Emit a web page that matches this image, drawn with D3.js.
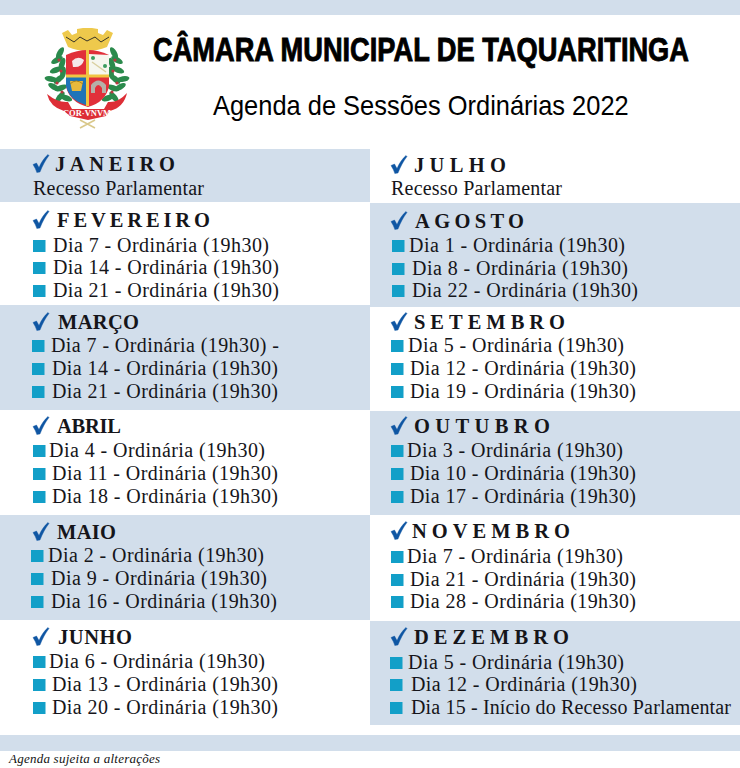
<!DOCTYPE html>
<html><head><meta charset="utf-8">
<script src="https://cdn.jsdelivr.net/npm/d3@7/dist/d3.min.js"></script>
<style>html,body{margin:0;padding:0;background:#fff}svg{display:block}</style>
</head><body><svg id="c" width="740" height="768"></svg>
<script>
const title = "CÂMARA MUNICIPAL DE TAQUARITINGA";
const subtitle = "Agenda de Sessões Ordinárias 2022";
const footnote = "Agenda sujeita a alterações";
const monthsLeft = ["JANEIRO","FEVEREIRO","MARÇO","ABRIL","MAIO","JUNHO"];
const monthsRight = ["JULHO","AGOSTO","SETEMBRO","OUTUBRO","NOVEMBRO","DEZEMBRO"];
const daysLeft = [[],[7,14,21],[7,14,21],[4,11,18],[2,9,16],[6,13,20]];
const daysRight = [[],[1,8,22],[5,12,19],[3,10,17],[7,21,28],[5,12,15]];
const recess = "Recesso Parlamentar";
const session = "Ordinária (19h30)";
const recessStart = "Início do Recesso Parlamentar";

const svg = d3.select("#c");
const BLUE="#d2deeb", INK="#15151a", CHECK="#0f56a3", SQ="#129fc8";
const SERIF="'Liberation Serif',serif";
const L = {
  bandTop:[149,202,305,410,515,620,735], shadeOdd:0,
  headX:[55,57,58,57,57,58], headW:[120,153,81,64,59,74],
  headY:[171,227,329,433,539,644], checkX:32,
  lineY:[[195],[252,274,297],[352,375,398],[457,480,503],[562,585,608],[668,691,714]],
  textX:[[33],[53,53,53],[51,52,52],[49,52,52],[48,51,51],[49,52,52]],
  sqX:[0,33,32,33,31,33], x0:0, x1:370
};
const R = {
  bandTop:[149,203,307,411,515,621,725], shadeOdd:1,
  headX:[414,415,414,414,412,414], headW:[92,109,151,136,158,155],
  headY:[172,228,329,433,538,644], checkX:390,
  lineY:[[195],[252,275,297],[352,375,398],[457,480,503],[563,586,608],[669,691,714]],
  textX:[[391],[409,412,412],[408,410,410],[407,410,410],[407,410,410],[408,411,411]],
  sqX:[0,392,391,391,391,390], x0:370, x1:740
};

svg.append("rect").attr("x",0).attr("y",0).attr("width",740).attr("height",15).attr("fill",BLUE);
svg.append("rect").attr("x",0).attr("y",735).attr("width",740).attr("height",16).attr("fill",BLUE);

function column(months, days, C){
  const g = svg.append("g");
  months.forEach((m,i)=>{
    if((i%2===0) === (C.shadeOdd===0)){
      g.append("rect").attr("x",C.x0).attr("y",C.bandTop[i]).attr("width",C.x1-C.x0)
       .attr("height",C.bandTop[i+1]-C.bandTop[i]).attr("fill",BLUE);
    }
  });
  months.forEach((m,i)=>{
    const hy=C.headY[i];
    g.append("path").attr("transform",`translate(${C.checkX},${hy})`)
      .attr("d","M1,-6.5 L4.5,-8 L7,-3.5 C9,-8.5 12.5,-13.5 16,-16.5 L17,-15.5 C13.5,-11 10.5,-5.5 8,1 L4.8,1.5 C4,-1.5 2.5,-4 1,-6.5Z")
      .attr("fill",CHECK).attr("stroke",CHECK).attr("stroke-width",0.4);
    g.append("text").attr("x",C.headX[i]).attr("y",hy).text(m)
      .attr("font-family",SERIF).attr("font-weight",700)
      .attr("font-size",20.5).attr("fill",INK)
      .attr("textLength",C.headW[i]).attr("lengthAdjust","spacing");
    if(days[i].length===0){
      g.append("text").attr("x",C.textX[i][0]).attr("y",C.lineY[i][0]).text(recess)
       .attr("font-family",SERIF).attr("font-size",20).attr("fill",INK)
       .attr("textLength",171).attr("lengthAdjust","spacing");
    } else days[i].forEach((d,j)=>{
      const ly=C.lineY[i][j], tx=C.textX[i][j];
      g.append("rect").attr("x",C.sqX[i]).attr("y",ly-12).attr("width",12.5).attr("height",12).attr("fill",SQ);
      const isRecess = months===monthsRight && i===5 && j===2;
      const isDash = months===monthsLeft && i===2 && j===0;
      const label = isRecess ? `Dia ${d} - ${recessStart}` : `Dia ${d} - ${session}${isDash?" -":""}`;
      const w = isRecess ? 320 : isDash ? 228 : (d<10 ? 216 : 226);
      g.append("text").attr("x",tx).attr("y",ly).text(label)
       .attr("font-family",SERIF).attr("font-size",20).attr("fill",INK)
       .attr("textLength",w).attr("lengthAdjust","spacing");
    });
  });
}
column(monthsLeft,daysLeft,L);
column(monthsRight,daysRight,R);

// titles: measured, then squeezed horizontally to the reference width
const t1 = svg.append("text").text(title)
  .attr("font-family","'Liberation Sans Narrow','Liberation Sans',sans-serif").attr("font-weight",700)
  .attr("font-size",33).attr("fill","#000").attr("stroke","#000").attr("stroke-width",0.9);
t1.attr("transform",`translate(153,61) scale(${536/t1.node().getComputedTextLength()},1)`);
const t2 = svg.append("text").text(subtitle)
  .attr("font-family","'Liberation Sans',sans-serif").attr("font-size",27).attr("fill","#000");
t2.attr("transform",`translate(213,115) scale(${416/t2.node().getComputedTextLength()},1)`);
svg.append("text").attr("x",9).attr("y",763).text(footnote)
  .attr("font-family",SERIF).attr("font-style","italic").attr("font-size",13).attr("fill","#111")
  .attr("textLength",151).attr("lengthAdjust","spacing");

// coat of arms
const a = svg.append("g");
const P=(d,f,s,w)=>a.append("path").attr("d",d).attr("fill",f||"none").attr("stroke",s||"none").attr("stroke-width",w||0);
// laurels (mirrored around the shield axis x=87)
const leafSpots=[[60,53,-60],[57,60,-30],[62,64,-70],[56,70,-20],[51,79,10],[59,79,-40],[63,73,-80],[54,87,30],[61,88,-20],[60,97,-50],[66,98,20]];
leafSpots.forEach(([x,yy,r])=>{
  [[x,r],[174-x,-r]].forEach(([lx,lr])=>{
    a.append("ellipse").attr("cx",lx).attr("cy",yy).attr("rx",6.5).attr("ry",2.8)
      .attr("transform",`rotate(${lr},${lx},${yy})`).attr("fill","#2b8a4c");
  });
});
[[59,60],[61,71],[57,83],[62,92]].forEach(([x,yy])=>{
  [x,174-x].forEach(lx=>a.append("circle").attr("cx",lx).attr("cy",yy).attr("r",1.6).attr("fill","#b8383e"));
});
// crown
P("M62,33 L68,30 L72,35 L77,33 L77,29 L83,28 L92,28 L98,29 L98,33 L103,35 L107,30 L113,33 L107,47 Q87,55 68,47Z","#eec94c");
P("M66,37 L74,42 L80,37 L87,41 L95,37 L101,42 L109,37","none","#222",0.9);
// shield
P("M66,55 Q88,45 109,55 L109,86 Q106,102 88,107 Q69,102 66,86Z","#e1303a");
P("M89,54 L109,55 L109,75 L89,75Z","#f6f7ef");
P("M66,77 L86,77 L86,105 Q69,100 66,86Z","#1f74b8");
P("M86,50 L89,50 L89,106 L86,106Z","#f0c542");
P("M66,74.5 L109,74.5 L109,77.5 L66,77.5Z","#f0c542");
P("M70,81 L83,81 L81,91 L72,91Z","#e8b93c");
P("M70,84 Q76,78 83,84","none","#a88320",1);
P("M91,93 L91,85 Q98,76 106,85 L106,93 L102,93 L102,88 Q98,82 95,88 L95,93Z","#b5b0a8");
P("M72,61 Q78,55 84,60 Q82,68 73,67Z","#f4e8ea");
P("M92,62 L106,72","none","#d9d0a0",1.5);
a.append("circle").attr("cx",93).attr("cy",58).attr("r",2).attr("fill","#3b9c5e");
a.append("circle").attr("cx",105).attr("cy",66).attr("r",2).attr("fill","#3b9c5e");
// ribbon
P("M47,94 Q58,103 68,102 L72,109 L104,109 L108,102 Q118,103 127,93 Q124,107 110,111 L106,116 L88,120 L70,116 L64,111 Q50,107 47,94Z","#dd2e36");
a.append("text").attr("x",87).attr("y",116).attr("text-anchor","middle").text("COR·VNVM")
  .attr("font-family",SERIF).attr("font-weight",700).attr("font-size",8.5).attr("fill","#fff");
P("M80,128 L95,120 M95,128 L80,120","none","#d9c88a",1.5);
</script></body></html>
